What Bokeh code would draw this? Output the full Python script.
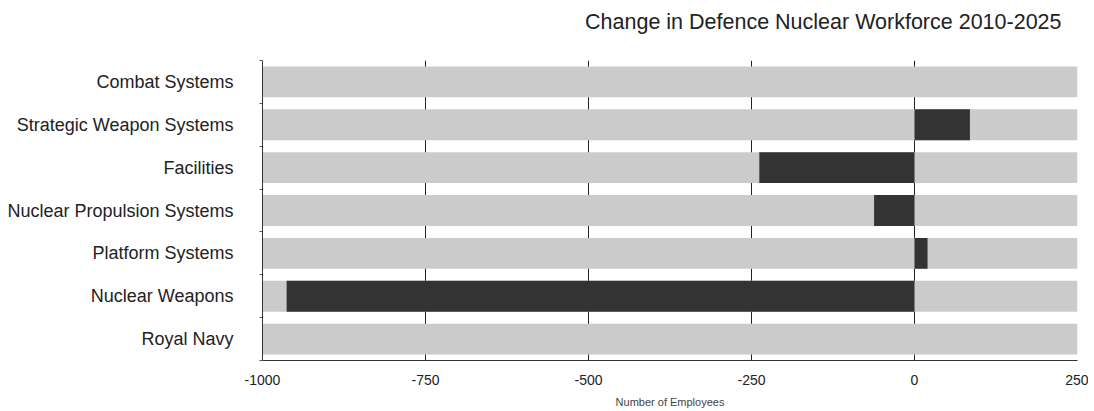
from bokeh.plotting import figure
from bokeh.models import FixedTicker, LinearAxis, Range1d, ColumnDataSource, Title
from bokeh.embed import file_html
from bokeh.resources import INLINE

categories = ["Combat Systems", "Strategic Weapon Systems", "Facilities",
              "Nuclear Propulsion Systems", "Platform Systems", "Nuclear Weapons", "Royal Navy"]
values = [0, 85, -238, -62, 20, -963, 0]
x_ticks = [-1000, -750, -500, -250, 0, 250]
x_tick_labels = ["-1000", "-750", "-500", "-250", "0", "250"]
title_text = "Change in Defence Nuclear Workforce 2010-2025"

n = len(categories)
ypos = [n - i - 0.5 for i in range(n)]

FONT = "Liberation Sans"

p = figure(width=1088, height=410, output_backend="svg", toolbar_location=None,
           x_range=Range1d(-1000, 250), y_range=Range1d(0, n),
           min_border_left=262, min_border_right=11, min_border_top=0, min_border_bottom=47,
           title=title_text)
p.outline_line_color = None
p.background_fill_color = "white"
p.title.align = "right"
p.title.offset = 16
p.title.standoff = 14
p.title.text_font = FONT
p.title.text_font_size = "21.5px"
p.title.text_font_style = "normal"
p.title.text_color = "#222222"

# empty spacer between the frame and the title
spacer = Title(text=" ", text_font_size="10px", standoff=7)
p.add_layout(spacer, "above")

src = ColumnDataSource(dict(y=ypos, v=values, lo=[-1000] * n, hi=[250] * n))
p.hbar(y="y", left="lo", right="hi", height=0.72, source=src,
       fill_color="#cbcbcb", line_color=None)
p.hbar(y="y", left=0, right="v", height=0.72, source=src,
       fill_color="#333333", line_color=None)

# x axis
p.xaxis.ticker = FixedTicker(ticks=x_ticks)
p.xaxis.major_label_overrides = {t_: s for t_, s in zip(x_ticks, x_tick_labels)}
p.xaxis.axis_label = "Number of Employees"
p.xaxis.axis_label_text_font = FONT
p.xaxis.axis_label_text_font_size = "11px"
p.xaxis.axis_label_text_font_style = "normal"
p.xaxis.axis_label_standoff = 8
p.xaxis.major_label_text_font = FONT
p.xaxis.major_label_text_font_size = "14px"
p.xaxis.major_label_text_color = "#222222"
p.xaxis.major_label_standoff = 8
p.xaxis.major_tick_line_color = None
p.xaxis.minor_tick_line_color = None
p.xaxis.axis_line_color = "#333333"

p.xgrid.ticker = FixedTicker(ticks=x_ticks)
p.xgrid.grid_line_color = "#222222"
p.xgrid.grid_line_width = 1
p.ygrid.grid_line_color = None

# left axis: tick marks at category boundaries
p.yaxis.ticker = FixedTicker(ticks=list(range(n + 1)))
p.yaxis.major_label_overrides = {i: "" for i in range(n + 1)}
p.yaxis.major_label_text_font_size = "1px"
p.yaxis.major_tick_out = 3
p.yaxis.major_tick_in = 0
p.yaxis.minor_tick_line_color = None
p.yaxis.axis_line_color = "#333333"
p.yaxis.major_tick_line_color = "#555555"
p.yaxis.major_label_standoff = 0

# category labels axis
lab = LinearAxis(ticker=FixedTicker(ticks=ypos),
                 major_label_overrides={y: c for y, c in zip(ypos, categories)})
lab.axis_line_color = None
lab.major_tick_line_color = None
lab.minor_tick_line_color = None
lab.major_label_text_font = FONT
lab.major_label_text_font_size = "18px"
lab.major_label_text_color = "#222222"
lab.major_label_standoff = 20
p.add_layout(lab, "left")

open("out.html", "w").write(file_html(p, INLINE))
